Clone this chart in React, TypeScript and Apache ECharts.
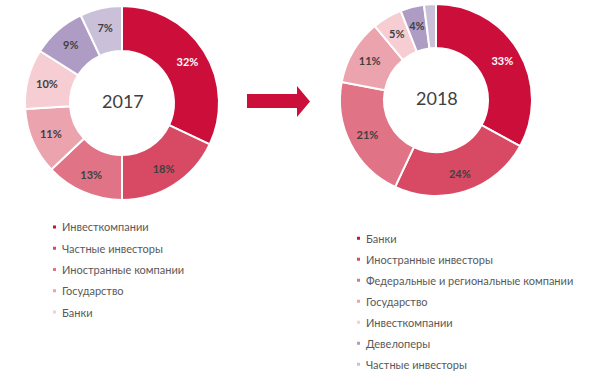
import React, { useEffect, useRef } from "react";
import * as echarts from "echarts";

const colors = ["#cc0f3a", "#d84a63", "#e07486", "#eba3ad", "#f5cdd3", "#ae9cc4", "#cbc0da"];

const cats2017 = [
  "Инвесткомпании",
  "Частные инвесторы",
  "Иностранные компании",
  "Государство",
  "Банки",
  "Девелоперы ",
  "Прочие ",
];
const vals2017 = [32, 18, 13, 11, 10, 9, 7];
const legend2017 = ["Инвесткомпании", "Частные инвесторы", "Иностранные компании", "Государство", "Банки"];

const cats2018 = [
  "Банки",
  "Иностранные инвесторы",
  "Федеральные и региональные компании",
  "Государство",
  "Инвесткомпании",
  "Девелоперы",
  "Частные инвесторы",
];
const vals2018 = [33, 24, 21, 11, 5, 4, 2];
const hiddenLabel2018 = [false, false, false, false, false, false, true];

const FONT = "Lato, 'Open Sans', sans-serif";

function buildData(cats: string[], vals: number[], hidden?: boolean[]) {
  return cats.map((name, i) => ({
    name,
    value: vals[i],
    itemStyle: { color: colors[i] },
    label: {
      show: !(hidden && hidden[i]),
      color: i === 0 ? "#ffffff" : "#404040",
    },
  }));
}

function legendData(names: string[], cats: string[]) {
  return names.map((n) => ({ name: n, itemStyle: { color: colors[cats.indexOf(n)] } }));
}

export default function App() {
  const ref = useRef<HTMLDivElement>(null);
  useEffect(() => {
    if (!ref.current) return;
    const chart = echarts.init(ref.current, null, { renderer: "svg" });
    const pieCommon = {
      type: "pie",
      startAngle: 90,
      clockwise: true,
      avoidLabelOverlap: false,
      label: {
        position: "inside",
        formatter: "{c}%",
        fontFamily: FONT,
        fontSize: 11,
        fontWeight: "bold",
      },
      labelLine: { show: false },
      itemStyle: { borderColor: "#ffffff", borderWidth: 2 },
      emphasis: { disabled: true },
    };
    const legendCommon = {
      orient: "vertical",
      icon: "rect",
      itemWidth: 5,
      itemHeight: 5,
      padding: 0,
      selectedMode: false,
      textStyle: { fontFamily: FONT, fontSize: 11, color: "#595959" },
    };
    chart.setOption({
      animation: false,
      backgroundColor: "#ffffff",
      legend: [
        { ...legendCommon, left: 51, top: 221.4, itemGap: 10.3, data: legendData(legend2017, cats2017) },
        { ...legendCommon, left: 355, top: 232.7, itemGap: 10, data: legendData(cats2018, cats2018) },
      ],
      graphic: [
        {
          type: "text",
          left: 122 - 20,
          top: 103 - 11,
          style: { text: "2017", fontFamily: FONT, fontSize: 18, fill: "#404040" },
        },
        {
          type: "text",
          left: 436 - 20,
          top: 100 - 11,
          style: { text: "2018", fontFamily: FONT, fontSize: 18, fill: "#404040" },
        },
        {
          type: "polygon",
          shape: {
            points: [
              [247, 94],
              [297, 94],
              [297, 86],
              [310, 101.5],
              [297, 117],
              [297, 108],
              [247, 108],
            ],
          },
          style: { fill: "#cc0f3a" },
        },
      ],
      series: [
        {
          ...pieCommon,
          name: "2017",
          center: [122, 103],
          radius: [52, 97],
          data: buildData(cats2017, vals2017),
        },
        {
          ...pieCommon,
          name: "2018",
          center: [436, 100],
          radius: [52, 96],
          data: buildData(cats2018, vals2018, hiddenLabel2018),
        },
      ],
    });
    return () => chart.dispose();
  }, []);
  return (
    <div
      ref={ref}
      style={{ position: "fixed", left: 0, top: 0, width: 600, height: 372 }}
    />
  );
}
